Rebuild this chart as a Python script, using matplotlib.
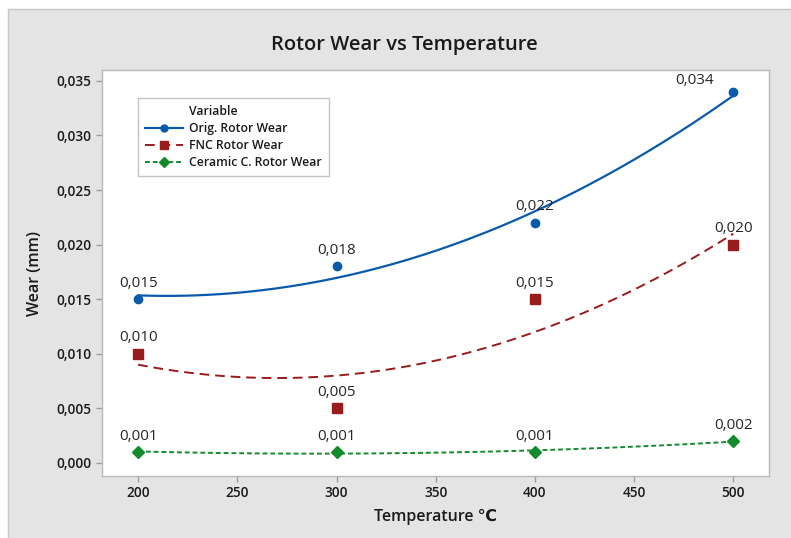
import numpy as np
import matplotlib.pyplot as plt
from matplotlib.patches import Rectangle
from matplotlib.ticker import FuncFormatter

plt.rcParams['font.family'] = ['Open Sans', 'DejaVu Sans']

# Data
temperature = [200, 300, 400, 500]
orig_wear = [0.015, 0.018, 0.022, 0.034]
fnc_wear = [0.010, 0.005, 0.015, 0.020]
ceramic_wear = [0.001, 0.001, 0.001, 0.002]
series_names = ['Orig. Rotor Wear', 'FNC Rotor Wear', 'Ceramic C. Rotor Wear']

colors = ['#0a5aab', '#9a1b1b', '#138a2c']
markers = ['o', 's', 'D']
msizes = [6, 7, 6]
dashes = [None, (5, 3), (2.5, 1.5)]
lws = [1.6, 1.4, 1.4]

fig = plt.figure(figsize=(7.91, 5.38), dpi=100, facecolor='white')
# grey panel behind the plot
fig.patches.append(Rectangle((8 / 791, -0.01), 1.0, 1 - 9 / 538 + 0.01, transform=fig.transFigure,
                             facecolor='#e4e4e4', edgecolor='#c6c6c6', linewidth=1.0, zorder=-10))

ax = fig.add_axes([102 / 791, 1 - 476 / 538, 667 / 791, 406 / 538])
ax.set_facecolor('white')

def fmt(v):
    return f'{v:.3f}'.replace('.', ',')

xs = np.linspace(min(temperature), max(temperature), 200)
for i, ys in enumerate([orig_wear, fnc_wear, ceramic_wear]):
    coef = np.polyfit(temperature, ys, 2)
    line, = ax.plot(xs, np.polyval(coef, xs), color=colors[i], lw=lws[i], zorder=2)
    if dashes[i] is not None:
        line.set_dashes(dashes[i])
    ax.plot(temperature, ys, linestyle='none', marker=markers[i], ms=msizes[i],
            color=colors[i], zorder=3)
    for x, y in zip(temperature, ys):
        if x == 500 and y == max(orig_wear):
            ax.annotate(fmt(y), (x, y), xytext=(-14, 3), textcoords='offset points',
                        ha='right', va='bottom', fontsize=11, color='#262626')
        else:
            ax.annotate(fmt(y), (x, y), xytext=(0, 6), textcoords='offset points',
                        ha='center', va='bottom', fontsize=11, color='#262626')

# legend with "Variable" as a heading row
handles = [ax.plot([], [], color='none', label='Variable')[0]]
for i in range(3):
    h, = ax.plot([], [], color=colors[i], lw=lws[i], marker=markers[i], ms=msizes[i] - 1,
                 label=series_names[i])
    if dashes[i] is not None:
        h.set_dashes(dashes[i])
    handles.append(h)
leg = ax.legend(handles=handles, loc='upper left', bbox_to_anchor=(0.054, 0.931),
                borderaxespad=0, prop={'size': 8.8, 'weight': 'semibold'},
                frameon=True, fancybox=False,
                handlelength=3.1, handletextpad=0.5, labelspacing=0.32,
                borderpad=0.6)
leg.get_frame().set_edgecolor('#b4b4b4')
leg.get_frame().set_linewidth(1.0)
for t in leg.get_texts():
    t.set_color('#1a1a1a')

ax.set_xlim(181.8, 518)
ax.set_ylim(-0.0012, 0.036)
ax.set_xticks(np.arange(200, 501, 50))
ax.set_yticks(np.arange(0, 0.0351, 0.005))
ax.yaxis.set_major_formatter(FuncFormatter(lambda v, p: fmt(v)))

for s in ax.spines.values():
    s.set_color('#b8b8b8')
    s.set_linewidth(1.0)
ax.tick_params(axis='both', colors='#9a9a9a', labelcolor='#1a1a1a', labelsize=9.8,
               length=4, width=1)
for lab in ax.get_xticklabels() + ax.get_yticklabels():
    lab.set_fontweight('semibold')

ax.set_xlabel('Temperature ℃', fontsize=11.5, color='#1a1a1a', labelpad=6,
              fontweight='semibold')
ax.set_ylabel('Wear (mm)', fontsize=11.5, color='#1a1a1a', labelpad=10,
              fontweight='semibold')
fig.text(404 / 791, 1 - 45 / 538, 'Rotor Wear vs Temperature', ha='center', va='center',
         fontsize=14.5, fontweight='semibold', color='#1a1a1a')

fig.savefig('out.png', dpi=100, facecolor='white')
